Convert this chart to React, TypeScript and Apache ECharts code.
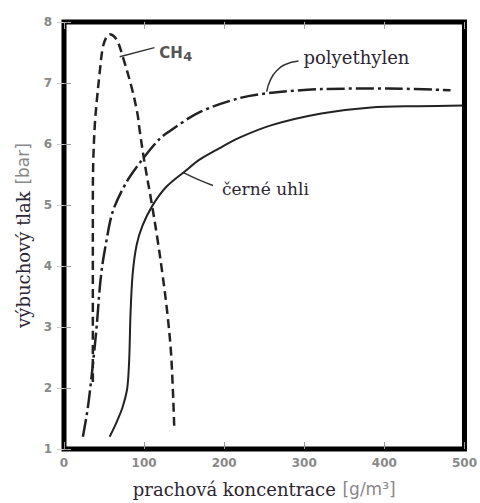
import React, { useEffect, useRef } from "react";
import * as echarts from "echarts";

const xTicks = [0, 100, 200, 300, 400, 500];
const yTicks = [1, 2, 3, 4, 5, 6, 7, 8];

const ch4X = [36, 36, 36, 36, 36.5, 38.5, 40.9, 44.7, 48.4, 52.5, 57, 62, 67, 73.2, 84.4, 91.8, 94.3, 100.5, 109.2, 116.6, 122.8, 129.0, 134.0, 137.7];
const ch4Y = [2.1, 3.0, 4.0, 5.0, 5.7, 6.32, 6.7, 7.19, 7.58, 7.74, 7.8, 7.77, 7.68, 7.44, 6.93, 6.49, 6.24, 5.7, 5.05, 4.45, 3.88, 3.23, 2.5, 1.33];

const polyX = [23.6, 29.8, 36, 40.9, 44.7, 47.5, 50.9, 60.8, 78.2, 98, 119.1, 135.2, 168.7, 218.4, 259.3, 321.3, 404.5, 482.6];
const polyY = [1.2, 1.68, 2.38, 3.03, 3.65, 3.98, 4.26, 4.89, 5.38, 5.75, 6.08, 6.24, 6.52, 6.75, 6.84, 6.9, 6.91, 6.88];

const coalX = [57, 66, 73, 79, 81.5, 83, 85.6, 90.6, 98, 110.4, 127.8, 152.6, 168.7, 189.8, 218.4, 259.3, 321.3, 383.4, 441.7, 497.5];
const coalY = [1.2, 1.45, 1.68, 2.0, 2.5, 3.2, 3.85, 4.34, 4.66, 4.99, 5.3, 5.57, 5.74, 5.9, 6.1, 6.31, 6.5, 6.6, 6.62, 6.63];

const ch4LeaderX = [69.5, 112.9];
const ch4LeaderY = [7.43, 7.58];
const polyLeaderX = [253, 258, 265.5, 275.4, 292.8];
const polyLeaderY = [6.86, 7.06, 7.2, 7.3, 7.36];
const coalLeaderX = [149, 167, 186];
const coalLeaderY = [5.53, 5.42, 5.32];

const labelTexts = ["CH4", "polyethylen", "černé uhli"];
const labelX = [119, 299, 197.3];
const labelY = [7.5, 7.41, 5.27];

const zip = (xs: number[], ys: number[]) => xs.map((x, i) => [x, ys[i]]);

const SERIF = "'DejaVu Serif', serif";
const SANS = "'DejaVu Sans', 'Liberation Sans', sans-serif";
const INK = "#222";
const TEXT = "#2c2633";

export default function App() {
  const ref = useRef<HTMLDivElement>(null);
  useEffect(() => {
    if (!ref.current) return;
    const chart = echarts.init(ref.current, null, { renderer: "svg" });
    const leader = (xs: number[], ys: number[]) => ({
      type: "line",
      data: zip(xs, ys),
      smooth: true,
      symbol: "none",
      silent: true,
      lineStyle: { color: "#333", width: 1.5 },
      z: 3,
    });
    chart.setOption({
      animation: false,
      backgroundColor: "#fff",
      grid: {
        left: 64,
        right: 13,
        top: 22,
        bottom: 51,
        show: true,
        borderColor: "#000",
        borderWidth: 5,
        backgroundColor: "#fff",
      },
      xAxis: [
        {
          type: "value",
          min: 0,
          max: 500,
          interval: 100,
          position: "bottom",
          axisLine: { show: false },
          splitLine: { show: false },
          axisTick: { show: true, inside: true, length: 7, lineStyle: { color: "#999", width: 1 } },
          axisLabel: {
            margin: 8,
            color: "#888",
            fontFamily: SANS,
            fontWeight: "bold",
            fontSize: 12,
            formatter: (v: number) => (xTicks.includes(v) ? String(v) : ""),
          },
          name: "{a|prachová koncentrace}  {b|[g/m³]}",
          nameLocation: "middle",
          nameGap: 31,
          nameTextStyle: {
            rich: {
              a: { fontFamily: SERIF, fontSize: 18, color: TEXT },
              b: { fontFamily: SANS, fontSize: 17, color: "#888" },
            },
          },
        },
        {
          type: "value",
          min: 0,
          max: 500,
          interval: 100,
          position: "top",
          axisLine: { show: false },
          splitLine: { show: false },
          axisTick: { show: true, inside: true, length: 7, lineStyle: { color: "#aaa", width: 1 } },
          axisLabel: { show: false },
        },
      ],
      yAxis: [
        {
          type: "value",
          min: 1,
          max: 8,
          interval: 1,
          position: "left",
          axisLine: { show: false },
          splitLine: { show: false },
          axisTick: { show: true, inside: true, length: 7, lineStyle: { color: "#999", width: 1 } },
          axisLabel: {
            margin: 12,
            color: "#888",
            fontFamily: SANS,
            fontWeight: "bold",
            fontSize: 12,
            formatter: (v: number) => (yTicks.includes(v) ? String(v) : ""),
          },
          name: "{a|výbuchový tlak}  {b|[bar]}",
          nameLocation: "middle",
          nameGap: 32,
          nameRotate: 90,
          nameTextStyle: {
            rich: {
              a: { fontFamily: SERIF, fontSize: 18, color: TEXT },
              b: { fontFamily: SANS, fontSize: 17, color: "#888" },
            },
          },
        },
        {
          type: "value",
          min: 1,
          max: 8,
          interval: 1,
          position: "right",
          axisLine: { show: false },
          splitLine: { show: false },
          axisTick: { show: true, inside: true, length: 7, lineStyle: { color: "#ccc", width: 1 } },
          axisLabel: { show: false },
        },
      ],
      series: [
        {
          name: "CH4",
          type: "line",
          data: zip(ch4X, ch4Y),
          smooth: 0.35,
          symbol: "none",
          lineStyle: { color: INK, width: 2.5, type: [9, 5] },
          z: 4,
        },
        {
          name: "polyethylen",
          type: "line",
          data: zip(polyX, polyY),
          smooth: 0.3,
          symbol: "none",
          lineStyle: { color: INK, width: 2.5, type: [18, 4, 3, 4] },
          z: 4,
        },
        {
          name: "černé uhli",
          type: "line",
          data: zip(coalX, coalY),
          smooth: 0.3,
          symbol: "none",
          lineStyle: { color: INK, width: 2 },
          z: 4,
        },
        leader(ch4LeaderX, ch4LeaderY),
        leader(polyLeaderX, polyLeaderY),
        leader(coalLeaderX, coalLeaderY),
      ],
    });

    const texts = labelTexts.map((t, i) => {
      const p = chart.convertToPixel({ gridIndex: 0 }, [labelX[i], labelY[i]]) as number[];
      if (t === "CH4") {
        return {
          type: "group",
          x: p[0],
          y: p[1],
          children: [
            {
              type: "text",
              x: 0,
              y: 0,
              style: { text: "CH", fontFamily: SANS, fontWeight: "bold", fontSize: 15, fill: "#555", verticalAlign: "middle" },
            },
            {
              type: "text",
              x: 24,
              y: 4,
              style: { text: "4", fontFamily: SANS, fontWeight: "bold", fontSize: 13, fill: "#555", verticalAlign: "middle" },
            },
          ],
        };
      }
      return {
        type: "text",
        x: p[0],
        y: p[1],
        style: { text: t, fontFamily: SERIF, fontSize: t === "polyethylen" ? 18 : 17, fill: TEXT, verticalAlign: "middle" },
      };
    });
    chart.setOption({ graphic: texts });

    return () => chart.dispose();
  }, []);
  return <div ref={ref} style={{ position: "absolute", left: 0, top: 0, width: 480, height: 503 }} />;
}
